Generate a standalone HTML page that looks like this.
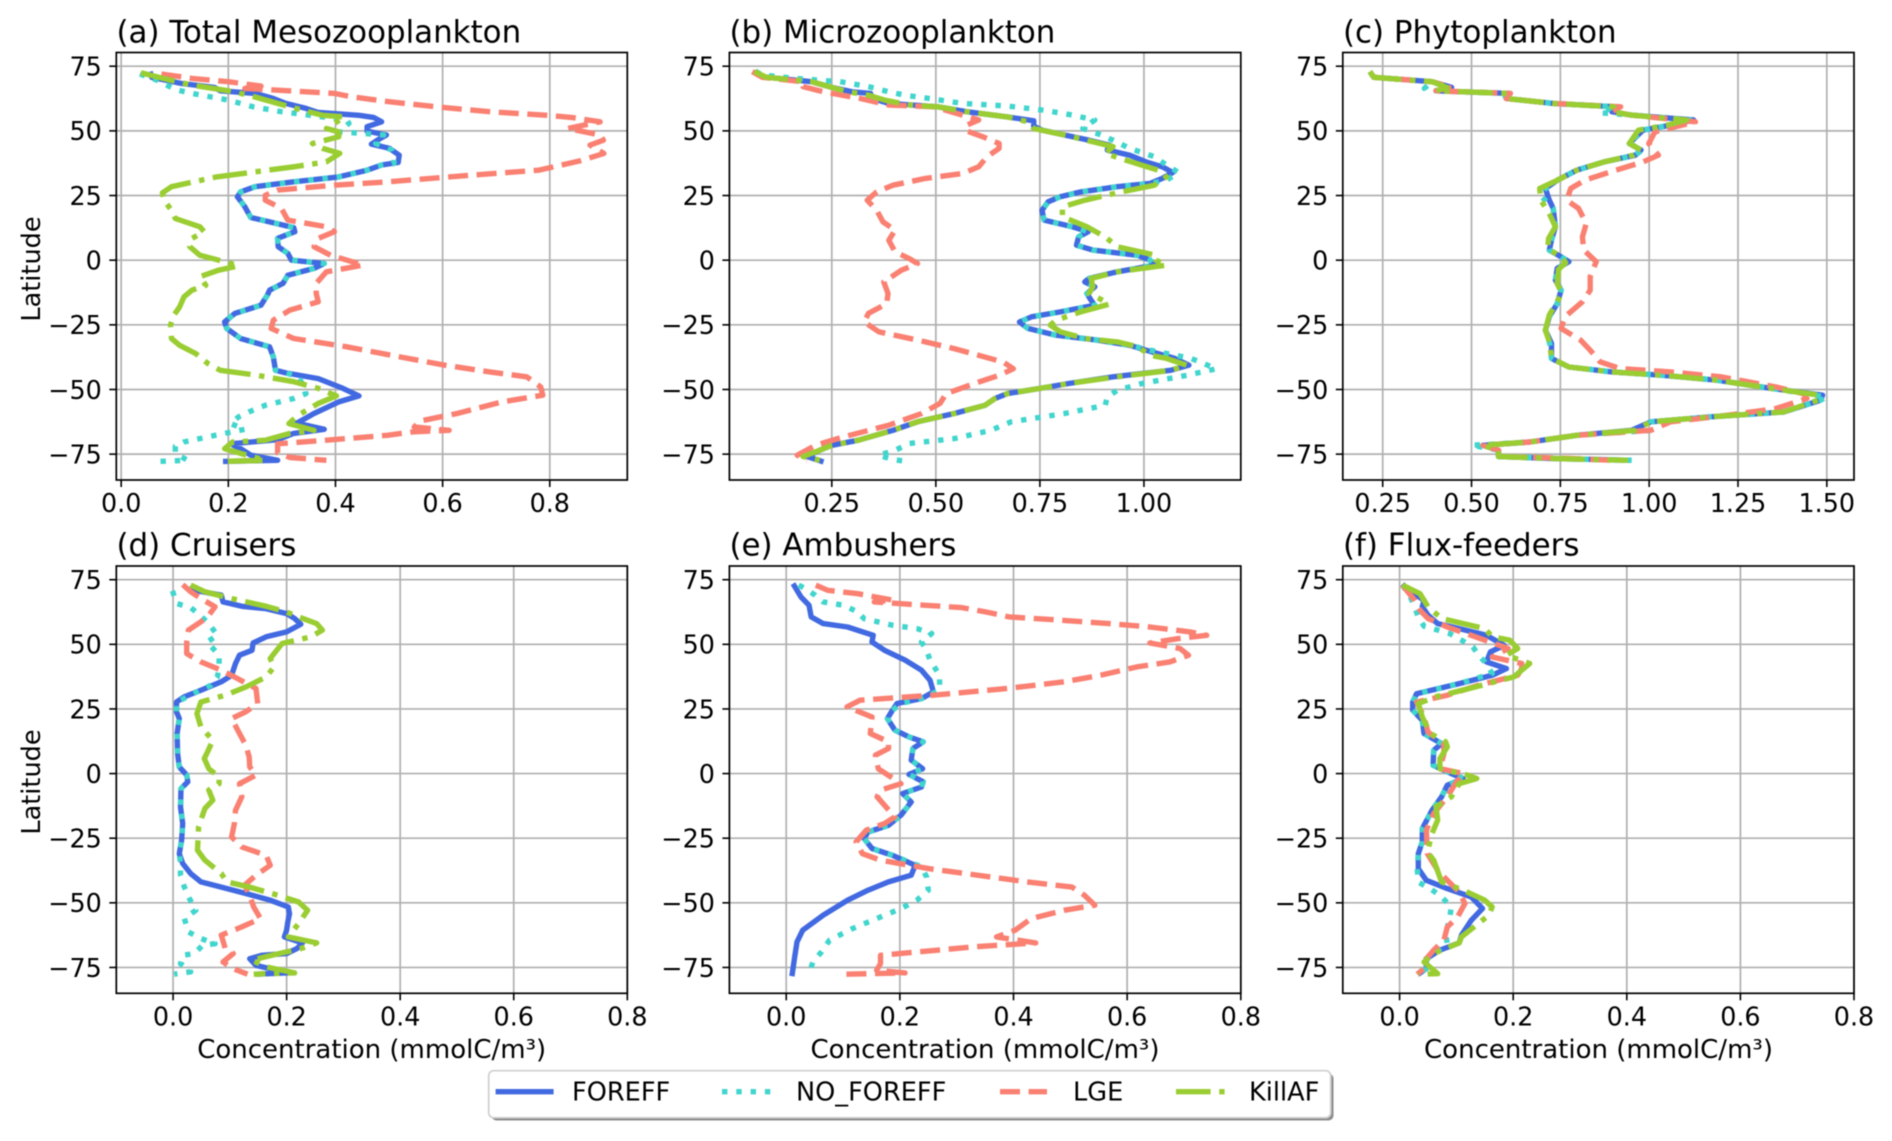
<!DOCTYPE html>
<html lang="en">
<head>
<meta charset="utf-8">
<title>Plankton concentration by latitude</title>
<style>
html,body{margin:0;padding:0;background:#fff;}
svg{display:block;font-family:"DejaVu Sans","Liberation Sans",sans-serif;fill:#000;filter:blur(0.45px);}
</style>
</head>
<body>
<svg id="fig" xmlns="http://www.w3.org/2000/svg" width="1892" height="1141" viewBox="0 0 1892 1141">
<rect width="1892" height="1141" fill="#fff"/>
<g id="panels"></g>
<g font-size="30.9">
<text x="116.5" y="42.5">(a) Total Mesozooplankton</text>
<text x="729.5" y="42.5">(b) Microzooplankton</text>
<text x="1343" y="42.5">(c) Phytoplankton</text>
<text x="116.5" y="555.5">(d) Cruisers</text>
<text x="729.5" y="555.5">(e) Ambushers</text>
<text x="1343" y="555.5">(f) Flux-feeders</text>
</g>
<g font-size="25.6" text-anchor="middle">
<text transform="translate(40,269) rotate(-90)">Latitude</text>
<text transform="translate(40,782) rotate(-90)">Latitude</text>
<text x="371.7" y="1058" font-size="26">Concentration (mmolC/m³)</text>
<text x="985" y="1058" font-size="26">Concentration (mmolC/m³)</text>
<text x="1598.5" y="1058" font-size="26">Concentration (mmolC/m³)</text>
</g>
<g>
<rect x="491.5" y="1073.5" width="842" height="47" rx="5" fill="#8c8c8c"/>
<rect x="488.7" y="1070.7" width="842" height="47" rx="5" fill="#fff" stroke="#cfcfcf" stroke-width="1.7"/>
<g>
<line x1="495.6" x2="553.6" y1="1091.7" y2="1091.7" stroke="#4169e1" stroke-width="5.4"/>
<text x="572" y="1100.5" font-size="25.6">FOREFF</text>
</g>
<g>
<line x1="722" x2="772" y1="1091.7" y2="1091.7" stroke="#40d5cd" stroke-width="5.4" stroke-dasharray="5.4 8.9"/>
<text x="796" y="1100.5" font-size="25.6">NO_FOREFF</text>
</g>
<g>
<line x1="1000" x2="1047" y1="1091.7" y2="1091.7" stroke="#fa8072" stroke-width="5.4" stroke-dasharray="20 8.6"/>
<text x="1073" y="1100.5" font-size="25.6">LGE</text>
</g>
<g>
<line x1="1176" x2="1229" y1="1091.7" y2="1091.7" stroke="#9acd32" stroke-width="5.4" stroke-dasharray="34.6 8.6 5.4 8.6"/>
<text x="1249" y="1100.5" font-size="25.6">KillAF</text>
</g>
</g>
</svg>
<script>
const aForeffLat=[72.9,70.7,68.3,66.8,65.5,64.5,62.5,60.6,58.7,57.1,56,55.2,53.5,51.6,49.9,48.4,46.4,44.9,43.2,40.6,37.8,36.8,34.8,32.2,30.3,28.4,26.4,24.5,20.6,16.5,14.8,12.6,11,8.4,5.2,2.6,0,-1.3,-3.2,-5.8,-9,-11.6,-13.5,-17.4,-20.6,-23.9,-26.4,-30.3,-33.5,-37.4,-42.6,-43.6,-45.8,-49.6,-52.5,-54.8,-59.3,-63,-65.4,-67,-69.4,-71,-72.9,-75.4,-77.4,-77.8];
const aForeff=[.054,.057,.113,.174,.185,.25,.284,.307,.345,.368,.444,.471,.486,.459,.459,.495,.478,.467,.501,.519,.517,.486,.459,.406,.322,.25,.223,.217,.231,.242,.277,.322,.324,.292,.293,.311,.318,.379,.36,.311,.302,.277,.273,.261,.212,.193,.197,.223,.277,.284,.288,.307,.368,.414,.444,.406,.36,.328,.379,.322,.292,.204,.223,.242,.292,.19];
const aNoLat=[72,69.6,66,64.5,61.9,59.3,57.4,56,54.2,52.9,49.6,49,48.4,45.1,42.6,40,37.4,36.8,34.8,32.2,30.3,28.4,26.4,24.5,20.6,16.5,14.8,12.6,11,8.4,5.2,2.6,0,-1.3,-3.2,-5.8,-9,-11.6,-13.5,-17.4,-20.6,-23.9,-26.4,-30.3,-33.5,-37.4,-42.6,-43.6,-45,-47.7,-51.6,-53.5,-56.1,-58.7,-60.6,-63.2,-65.4,-67,-68.3,-70.3,-72,-74.7,-77.4,-77.8];
const aNo=[.035,.067,.101,.132,.2,.246,.299,.353,.421,.425,.406,.452,.49,.475,.505,.509,.509,.486,.459,.406,.322,.25,.223,.217,.231,.242,.277,.322,.324,.292,.293,.311,.318,.379,.36,.311,.302,.277,.273,.261,.212,.193,.197,.223,.277,.284,.288,.307,.33,.338,.345,.322,.269,.238,.219,.204,.231,.193,.162,.117,.101,.101,.124,.071];
const aLgeLat=[72,70.3,69,67.3,66.4,66,64.5,63.2,61.3,59.1,57.4,56,55.2,53.5,50.9,48.4,46.4,44.5,41.3,38.4,34.8,32.2,30.3,29,27.1,25.1,23.2,20,15.5,12.9,11,8.4,5.2,1.9,-1.9,-4.5,-9,-12.9,-16.1,-19.3,-23.2,-26.4,-30.3,-33.5,-37.4,-40.6,-43.2,-45.1,-49,-52.2,-54.8,-59.3,-62.2,-64.5,-65.8,-66.4,-67.7,-69.6,-71,-74.5,-76.3,-77.4];
const aLge=[.075,.132,.2,.261,.231,.269,.398,.429,.498,.597,.688,.795,.84,.894,.833,.894,.9,.875,.901,.856,.779,.612,.498,.398,.292,.269,.269,.299,.311,.383,.398,.368,.36,.391,.452,.383,.364,.364,.368,.315,.284,.28,.322,.421,.52,.604,.688,.757,.783,.787,.711,.627,.558,.547,.612,.543,.497,.383,.292,.292,.315,.383];
const aKillLat=[72.5,70.3,67.7,65.5,63.8,60.6,58,56,55.4,50.9,49.6,47.7,45.1,43.2,41.3,38,36.1,32.2,28.4,26,23.2,19.3,16.1,12.9,11,8.4,5.2,1.9,-.6,-2.2,-3.9,-6.4,-9.7,-11.6,-14.2,-18.1,-21.3,-25.1,-30.3,-32.9,-36.1,-40,-42.6,-44.5,-47,-49.6,-52.5,-55.4,-60,-63.2,-65.8,-67,-69.6,-70.3,-72.9,-74.7,-77.4,-77.8];
const aKill=[.037,.078,.132,.2,.238,.292,.338,.376,.417,.383,.406,.406,.357,.376,.408,.383,.322,.178,.094,.077,.08,.094,.101,.147,.155,.132,.128,.147,.193,.219,.181,.147,.158,.132,.117,.109,.098,.092,.094,.109,.139,.162,.185,.254,.322,.368,.402,.368,.33,.313,.36,.315,.269,.208,.193,.223,.269,.189];

const bForeffLat=[73.1,70.9,69,66.8,65.1,64.5,62.5,60.6,59.3,57.4,55.4,53.9,51.8,50.3,48.4,46.4,44.5,42.6,40.6,38,36.1,33.9,31.6,29.7,28.4,26.4,24.5,22.6,19.3,15.5,12.9,11,9,5.8,3.9,1.9,0,-1.9,-4.5,-7.1,-8.4,-10.3,-12.9,-15.5,-17.4,-20,-21.9,-23.9,-26.4,-29,-30.9,-32.9,-34.8,-38,-40.6,-42.6,-45.1,-47.7,-49.6,-51.6,-53.5,-56.1,-59.3,-62.5,-65.8,-69.6,-71.6,-73.5,-75.9,-78];
const bForeff=[.067,.083,.201,.25,.299,.343,.348,.387,.505,.574,.672,.735,.735,.755,.809,.868,.917,.912,.966,1.005,1.044,1.069,1.044,1.015,.936,.848,.799,.77,.755,.76,.828,.866,.843,.838,.877,.985,1.015,1.025,.936,.868,.858,.882,.863,.873,.882,.799,.73,.701,.721,.789,.887,.966,1.005,1.074,1.108,1.064,.926,.819,.75,.672,.642,.618,.544,.456,.397,.314,.25,.221,.191,.23];
const bNoLat=[73,71.6,70.3,69,67.1,65.1,63.8,62.5,60.6,59.6,58,56.1,54.2,50.9,49,46.4,43.2,40,36.8,33.9,30.9,29.7,28.4,26.4,24.5,22.6,19.3,15.5,12.9,11,9,5.8,3.9,1.9,0,-1.9,-4.5,-7.1,-8.4,-10.3,-12.9,-15.5,-17.4,-20,-21.9,-23.9,-26.4,-29,-30.9,-32.9,-34.8,-38,-42,-44.5,-47.7,-50.3,-52.9,-56.1,-59.3,-62.5,-65.8,-69,-70.9,-73.5,-75.4,-77.1,-77.8];
const bNo=[.067,.083,.162,.27,.338,.387,.426,.485,.564,.672,.76,.828,.882,.853,.887,.926,.966,1.025,1.054,1.083,1.054,1.015,.936,.848,.799,.77,.755,.76,.828,.866,.843,.838,.877,.985,1.015,1.025,.936,.868,.858,.882,.863,.873,.882,.799,.73,.701,.721,.789,.887,.966,1.015,1.113,1.174,1.103,.995,.936,.912,.907,.809,.681,.632,.544,.436,.402,.363,.397,.431];
const bLgeLat=[72.9,70.7,69,67.1,65.1,62.5,60,59.3,56.1,54.2,52.2,50,47.7,45.1,43.2,40,36.1,33.5,31.6,29,26.4,23.2,19.3,14.8,11.6,7.7,3.2,.6,-1.3,-3.9,-8.4,-12.9,-16.8,-20.6,-23.9,-27.7,-30.9,-34.2,-36.8,-39.4,-42,-44.5,-47.7,-51.6,-55.4,-59.3,-63.8,-68.3,-71.6,-75.4,-77.4];
const bLge=[.059,.083,.181,.181,.23,.319,.387,.495,.564,.603,.574,.574,.613,.652,.652,.623,.603,.564,.475,.397,.358,.335,.358,.373,.402,.387,.402,.436,.456,.417,.375,.385,.382,.338,.328,.363,.456,.544,.603,.662,.686,.652,.593,.525,.51,.466,.387,.279,.211,.167,.191];
const bKillLat=[72.9,70.7,69,66.8,65.1,63.8,61.9,60,59.3,57.4,55.4,53.5,50.9,48.4,45.8,43.9,41.3,38.7,34.8,32.2,29,26.4,23.2,20.6,16.8,12.9,9,5.2,1.9,0,-1.9,-4.5,-7.1,-10.3,-12.9,-14.8,-17,-20,-23.2,-25.1,-27.7,-30.3,-31.6,-33.5,-36.8,-38,-40.6,-42.6,-45.1,-47.7,-49.6,-51.6,-53.5,-56.1,-59.3,-62.5,-65.8,-69.6,-71.6,-73.5,-75.9,-77.4];
const bKill=[.064,.093,.201,.25,.289,.338,.377,.436,.505,.574,.672,.721,.735,.809,.877,.926,.907,.956,1.034,1.054,1.025,.946,.858,.804,.804,.863,.907,.936,1.029,1.029,1.054,.936,.873,.877,.868,.892,.917,.848,.789,.775,.799,.858,.936,.985,1.015,1.054,1.103,1.064,.936,.819,.75,.672,.642,.618,.544,.456,.397,.314,.25,.221,.181,.221];

const cForeffLat=[72.9,70.7,69,66.8,65.5,64.5,62.5,60.6,59.3,57.4,56.1,54.2,52.2,50.3,45.1,42.6,40.6,38,34.8,30.9,27.7,23.2,20,12.9,7.7,3.9,1.3,-.6,-3.2,-7.7,-11.6,-16.8,-21.9,-27.1,-32.2,-38,-41.3,-43.2,-44.5,-46.4,-49.6,-52.2,-54.2,-58.7,-60.6,-62.5,-65.8,-67.7,-70.3,-71.6,-73.5,-75.9,-76.7,-77.4];
const cForeff=[.214,.225,.389,.444,.4,.609,.598,.73,.906,.895,.95,1.125,1.06,.983,.944,.977,.961,.873,.796,.741,.708,.719,.73,.736,.725,.719,.752,.774,.741,.736,.752,.741,.719,.708,.725,.725,.774,.895,1.038,1.191,1.345,1.488,1.482,1.378,1.169,1.005,.95,.796,.664,.532,.576,.576,.73,.95];
const cNoLat=[72.9,70.7,69,66.4,65.5,64.5,62.5,60.6,59.3,57,56.1,54.2,52.2,50.3,45.1,42.6,40.6,38,34.8,30.9,27.7,24.9,20,12.9,7.7,3.9,1.3,-.6,-3.2,-7.7,-11.6,-16.8,-21.9,-27.1,-32.2,-38,-41.3,-43.2,-44.5,-46.4,-49.6,-52.9,-54.2,-58.7,-60.6,-62.5,-65.8,-67.7,-70.3,-71.6,-73.5,-75.9,-76.7,-77.4];
const cNo=[.214,.225,.389,.367,.4,.59,.598,.73,.9,.862,.95,1.115,1.06,.98,.944,.98,.961,.873,.796,.741,.708,.695,.73,.736,.725,.719,.752,.774,.741,.736,.752,.741,.719,.708,.72,.725,.774,.895,1.038,1.191,1.345,1.499,1.482,1.378,1.169,1.005,1.01,.796,.664,.5,.58,.576,.73,.955];
const cLgeLat=[72.9,70.7,69,66.8,65.5,64.5,62.5,60.6,59.3,57.4,56.1,53.5,49.6,45.1,40.6,38,34.8,30.9,27.7,23.2,20,14.2,9,3.9,-.6,-6.4,-11.6,-16.1,-21.9,-26.4,-30.9,-34.8,-39.3,-41.9,-43.2,-45.1,-49,-51.6,-53.5,-57.4,-59.9,-62.5,-65.8,-67.7,-70.3,-71.6,-73.5,-75.9,-76.7,-77.4];
const cLge=[.214,.225,.389,.444,.4,.609,.598,.73,.92,.895,.95,1.13,1.016,.999,1.026,.983,.906,.818,.779,.768,.801,.823,.812,.816,.851,.834,.834,.812,.763,.752,.807,.834,.862,.917,1.06,1.202,1.356,1.433,1.444,1.356,1.224,1.06,1.005,.796,.664,.532,.576,.576,.78,.9];
const cKillLat=[72.9,70.7,69,66.8,65.5,64.5,62.5,60.6,59.3,57.4,56.1,54.2,52.2,50.3,45.1,42.6,40.6,38,34.8,30.9,27.7,23.2,18,12.9,8.4,4.5,1.3,-1,-3.5,-9,-12.9,-21.2,-27,-32,-38,-41.3,-43.2,-44.5,-46.4,-49.6,-52.2,-54.2,-58.7,-60.6,-62.5,-65.8,-67.7,-70.3,-71.6,-73.5,-75.9,-76.7,-77.4];
const cKill=[.214,.225,.389,.43,.4,.6,.598,.73,.9,.895,.95,1.105,1.05,.97,.944,.977,.955,.873,.796,.741,.692,.695,.719,.736,.717,.714,.752,.765,.745,.741,.754,.719,.708,.72,.725,.774,.895,1.038,1.191,1.345,1.48,1.475,1.378,1.169,1.005,.96,.796,.664,.532,.576,.576,.73,.94];

const dForeffLat=[72.9,70.9,69,66.4,64.7,63.8,61.9,60,57.8,54.8,52.9,50.5,47.7,45.8,42.6,38,35.5,32.2,29.7,27.7,23.9,21.3,15.5,7.7,2.6,-.6,-3.2,-5.8,-12.9,-19.3,-25.8,-31,-34.8,-38.7,-41.9,-43.9,-46.4,-49,-51.6,-54.2,-57.4,-60.6,-63.2,-65.5,-67.7,-69.6,-70.3,-71.6,-74.2,-75.5,-77.1,-77.6];
const dForeff=[.033,.038,.085,.088,.121,.164,.2,.214,.225,.2,.164,.141,.139,.117,.11,.103,.085,.049,.02,.006,.006,.011,.007,.008,.011,.024,.026,.014,.013,.017,.015,.011,.017,.031,.049,.085,.128,.171,.203,.205,.202,.2,.196,.228,.218,.2,.156,.135,.146,.171,.2,.146];
const dNoLat=[70.7,65.8,64.2,61.3,58,53.5,50.9,45.8,41.3,37.4,34.2,31.6,28.4,27.7,23.9,21.3,15.5,7.7,2.6,-.6,-3.2,-5.8,-12.9,-19.3,-25.8,-31,-34.8,-39.3,-43.9,-48.4,-52.9,-56.1,-61.3,-63.8,-65.8,-66.4,-69.6,-70.3,-73.5,-76.7,-77.6];
const dNo=[-.001,.006,.031,.047,.063,.078,.06,.081,.081,.078,.067,.042,.013,.006,.006,.011,.007,.008,.011,.024,.026,.014,.013,.017,.015,.011,.013,.013,.02,.029,.04,.02,.027,.049,.074,.052,.038,.017,.013,.031,.002];
const dLgeLat=[73.1,70.3,67.7,64.5,61.3,58.7,55.5,50.9,46.4,43.2,40,36.8,32.9,27.1,23.9,21.3,15.5,11,6.4,2.6,-.6,-3.9,-9,-14.2,-19.3,-24.5,-28.4,-31.6,-35.5,-39.3,-43.2,-47.1,-51.6,-56.1,-59.3,-62.5,-67.7,-69.6,-72.9,-75.5,-77.6];
const dLge=[.017,.031,.049,.074,.063,.049,.027,.024,.024,.049,.085,.113,.146,.149,.128,.103,.117,.128,.134,.135,.146,.117,.121,.11,.108,.103,.121,.164,.171,.146,.126,.135,.142,.154,.121,.085,.092,.106,.088,.106,.131];
const dKillLat=[72.9,70.3,67.7,64.7,62.5,60.6,58,55.5,52.9,50.3,46.4,44.5,41.3,37.4,33.5,30.3,27.7,23.2,18,12.9,9,5.8,1.9,-1.3,-3.9,-6.4,-10.3,-13.5,-20.6,-29.7,-33.5,-38.7,-41.9,-43.9,-47.1,-49.7,-52.9,-58,-63.2,-65.5,-67.7,-70.3,-72.2,-74.8,-77.1,-77.6];
const dKill=[.031,.056,.103,.164,.2,.221,.253,.263,.243,.192,.178,.171,.178,.164,.128,.092,.049,.042,.049,.07,.062,.055,.063,.081,.081,.063,.07,.056,.045,.043,.056,.085,.095,.135,.185,.221,.237,.221,.203,.253,.225,.174,.139,.164,.214,.142];

const eForeffLat=[73.5,68.3,65.1,60.6,58,56.7,53.5,50.9,47.7,43.9,40,36.1,31.6,29,27.1,24.5,21.3,16.8,14.2,12.3,9.7,5.2,1.9,-.3,-3.2,-5.2,-7.7,-11,-16.1,-20,-22.6,-25.1,-29,-31.6,-35.5,-39.3,-41.9,-45.1,-49,-54.8,-60.6,-65.1,-70.9,-78.4];
const eForeff=[.012,.026,.04,.044,.065,.108,.153,.151,.173,.209,.238,.253,.259,.238,.195,.187,.178,.191,.216,.241,.223,.22,.24,.216,.241,.238,.205,.22,.202,.18,.144,.137,.151,.187,.227,.22,.18,.144,.108,.065,.029,.019,.015,.01];
const eNoLat=[72.9,71.6,69,66.4,65.1,62.5,59.9,57.4,56.1,54.2,50.9,47.7,43.9,38,32.2,29,27.1,24.5,21.3,16.8,14.2,12.3,9.7,5.2,1.9,-.3,-3.2,-5.2,-7.7,-11,-16.1,-20,-22.6,-25.1,-29,-31.6,-36.1,-40,-45.1,-49,-52.2,-56.1,-60,-64.5,-69,-72.9,-78];
const eNo=[.022,.033,.051,.065,.101,.126,.137,.187,.23,.256,.238,.247,.253,.27,.27,.238,.202,.187,.178,.191,.216,.241,.223,.22,.24,.216,.241,.238,.205,.22,.202,.18,.144,.137,.151,.187,.238,.247,.25,.23,.202,.159,.116,.076,.062,.047,.039];
const eLgeLat=[72.9,70.9,69.6,67.1,66.4,65.1,64.2,62.5,60.6,59.7,58,56.7,54.8,53.5,52.2,50.5,48.4,45.8,43.2,41.3,38,35.5,32.9,30.3,28.4,25.8,21.9,15.5,12.3,9.7,7.1,1.9,-3.9,-6.4,-9,-16.8,-19.3,-21.9,-26.4,-31,-33.5,-36.8,-40,-41.9,-43.9,-47.1,-50.9,-52.9,-56.1,-60.6,-63.2,-65.5,-67,-70.3,-73.5,-76.1,-77.1,-77.6];
const eLge=[.052,.073,.126,.187,.155,.245,.309,.352,.392,.46,.568,.64,.711,.74,.69,.64,.693,.708,.675,.618,.553,.489,.388,.259,.13,.107,.151,.148,.18,.18,.157,.162,.202,.166,.16,.191,.173,.141,.123,.134,.166,.252,.36,.424,.503,.525,.543,.489,.431,.403,.37,.439,.331,.166,.166,.159,.209,.105];

const fForeffLat=[73.3,70.3,67.1,64.5,61.3,58,56.1,53.5,49.6,47.1,43.2,40.6,38,34.8,30.9,27.7,24.5,20.6,15.5,11.6,9,3.2,0,-1.9,-4.5,-9,-14.2,-21.3,-26.4,-31,-36.8,-41.3,-44.5,-47.7,-52.2,-56.8,-62.5,-65.5,-68.3,-71.6,-75.5,-77.6];
const fForeff=[.005,.019,.043,.04,.05,.067,.105,.153,.184,.16,.153,.188,.163,.105,.03,.023,.023,.04,.043,.074,.06,.059,.091,.112,.084,.074,.057,.04,.04,.033,.033,.047,.084,.126,.146,.126,.109,.105,.071,.047,.047,.033];
const fNoLat=[72.9,68.3,64.5,60.6,57,54.2,51.6,49,45.8,43.2,38.7,34.8,30.9,27.7,24.5,20.6,15.5,11.6,9,3.2,0,-1.9,-4.5,-9,-14.2,-21.3,-26.4,-31,-36.8,-42,-44.5,-47.7,-51.6,-56.1,-61.9,-65.8,-69.6,-72.2,-75.5,-77.6];
const fNo=[.005,.019,.026,.033,.043,.088,.109,.129,.139,.15,.163,.105,.03,.023,.023,.04,.043,.074,.06,.059,.091,.112,.084,.074,.057,.04,.04,.033,.031,.033,.054,.074,.091,.088,.081,.084,.06,.043,.047,.033];
const fLgeLat=[72.9,67.1,63.2,60,56.7,53.5,48.4,45.1,42.6,40.6,38,34.2,30.3,27.7,21.9,16.1,11.6,7.7,1.9,0,-3.9,-9,-15.5,-21.9,-31,-37.4,-41.3,-45.8,-50.3,-55.5,-59.3,-64.5,-68.3,-71.6,-75.5,-77.6];
const fLge=[.005,.026,.036,.05,.084,.126,.191,.163,.215,.215,.208,.139,.084,.03,.043,.05,.078,.078,.071,.112,.098,.084,.06,.047,.049,.067,.084,.105,.115,.102,.084,.078,.06,.047,.043,.031];
const fKillLat=[72.9,69.6,64.5,60,56.1,52.9,51.6,48.4,45.8,42.6,40,37.4,33.5,29.7,27.1,21.9,15.5,12.3,10.3,5.8,1.9,-.6,-1.9,-3.9,-9,-12.9,-18,-23.2,-30.3,-33.5,-41.9,-45.1,-49,-51.6,-54.8,-63.2,-65.5,-69.6,-72.9,-77.4,-77.6];
const fKill=[.005,.036,.05,.074,.15,.163,.194,.208,.188,.229,.215,.201,.133,.064,.033,.04,.054,.081,.084,.071,.071,.119,.136,.105,.091,.064,.067,.057,.049,.06,.074,.112,.15,.163,.157,.109,.105,.06,.043,.067,.033];

const yTickValues=[75,50,25,0,-25,-50,-75];
const xTicksTop=[[0,.2,.4,.6,.8],[.25,.5,.75,1],[.25,.5,.75,1,1.25,1.5]];
const xTicksBottom=[0,.2,.4,.6,.8];

const LINE_STYLES={
  foreff:{color:'#4169e1',dash:null},
  no:{color:'#40d5cd',dash:'5.4 8.9'},
  lge:{color:'#fa8072',dash:'20 8.6'},
  kill:{color:'#9acd32',dash:'34.6 8.6 5.4 8.6'}
};

const NS='http://www.w3.org/2000/svg';
const root=document.getElementById('panels');

function make(tag,attrs,parent){
  const el=document.createElementNS(NS,tag);
  for(const k in attrs){el.setAttribute(k,attrs[k]);}
  parent.appendChild(el);
  return el;
}

function fmtX(v,dec){return v.toFixed(dec);}
function fmtY(v){return v<0?'\u2212'+Math.abs(v):String(v);}

function drawPanel(p){
  const g=make('g',{},root);
  
  
  const xs=v=>p.left+(v-p.xlim[0])/(p.xlim[1]-p.xlim[0])*(p.right-p.left);
  const ys=v=>p.top+(p.ylim[1]-v)/(p.ylim[1]-p.ylim[0])*(p.bottom-p.top);
  const clipId='clip-'+p.id;
  const defs=make('defs',{},g);
  const clip=make('clipPath',{id:clipId},defs);
  make('rect',{x:p.left,y:p.top,width:p.right-p.left,height:p.bottom-p.top},clip);

  p.xticks.forEach(v=>{
    const x=xs(v);
    const gl=make('line',{x1:x,x2:x,y1:p.top,y2:p.bottom,stroke:'#b0b0b0','stroke-width':1.7},g);
    
    
    const tk=make('line',{x1:x,x2:x,y1:p.bottom,y2:p.bottom+7,stroke:'#000','stroke-width':1.6},g);
    
    
    const t=make('text',{x:x,y:p.bottom+32,'text-anchor':'middle','font-size':25.4},g);
    t.textContent=fmtX(v,p.dec);
    
    
  });
  yTickValues.forEach(v=>{
    const y=ys(v);
    const gl=make('line',{x1:p.left,x2:p.right,y1:y,y2:y,stroke:'#b0b0b0','stroke-width':1.7},g);
    
    
    const tk=make('line',{x1:p.left-7,x2:p.left,y1:y,y2:y,stroke:'#000','stroke-width':1.6},g);
    
    
    const t=make('text',{x:p.left-14.5,y:y+9.3,'text-anchor':'end','font-size':25.4},g);
    t.textContent=fmtY(v);
    
    
  });

  const lines=make('g',{'clip-path':'url(#'+clipId+')'},g);
  
  
  p.series.forEach(s=>{
    const st=LINE_STYLES[s.key];
    const pts=s.vals.map((v,i)=>xs(v).toFixed(1)+','+ys(s.lats[i]).toFixed(1)).join(' ');
    const attrs={points:pts,fill:'none',stroke:st.color,'stroke-width':5.4,'stroke-linejoin':'round','stroke-linecap':'butt'};
    if(st.dash){attrs['stroke-dasharray']=st.dash;}
    const pl=make('polyline',attrs,lines);
    
    
  });

  const frame=make('rect',{x:p.left,y:p.top,width:p.right-p.left,height:p.bottom-p.top,fill:'none',stroke:'#000','stroke-width':1.7},g);
  
  
}

const rowTop={top:52.5,bottom:480};
const rowBottom={top:566,bottom:993.3};
const yl=[-85,80.3];
const colA={left:116.3,right:627.3};
const colB={left:729.4,right:1240.8};
const colC={left:1342.8,right:1854};

drawPanel({id:'a',...colA,...rowTop,xlim:[-.0091,.9447],ylim:yl,xticks:xTicksTop[0],dec:1,series:[
  {key:'foreff',lats:aForeffLat,vals:aForeff},{key:'no',lats:aNoLat,vals:aNo},{key:'lge',lats:aLgeLat,vals:aLge},{key:'kill',lats:aKillLat,vals:aKill}]});
drawPanel({id:'b',...colB,...rowTop,xlim:[.004,1.2327],ylim:yl,xticks:xTicksTop[1],dec:2,series:[
  {key:'foreff',lats:bForeffLat,vals:bForeff},{key:'no',lats:bNoLat,vals:bNo},{key:'lge',lats:bLgeLat,vals:bLge},{key:'kill',lats:bKillLat,vals:bKill}]});
drawPanel({id:'c',...colC,...rowTop,xlim:[.1377,1.5765],ylim:yl,xticks:xTicksTop[2],dec:2,series:[
  {key:'foreff',lats:cForeffLat,vals:cForeff},{key:'no',lats:cNoLat,vals:cNo},{key:'lge',lats:cLgeLat,vals:cLge},{key:'kill',lats:cKillLat,vals:cKill}]});
drawPanel({id:'d',...colA,...rowBottom,xlim:[-.1,.8],ylim:yl,xticks:xTicksBottom,dec:1,series:[
  {key:'foreff',lats:dForeffLat,vals:dForeff},{key:'no',lats:dNoLat,vals:dNo},{key:'lge',lats:dLgeLat,vals:dLge},{key:'kill',lats:dKillLat,vals:dKill}]});
drawPanel({id:'e',...colB,...rowBottom,xlim:[-.1,.8],ylim:yl,xticks:xTicksBottom,dec:1,series:[
  {key:'foreff',lats:eForeffLat,vals:eForeff},{key:'no',lats:eNoLat,vals:eNo},{key:'lge',lats:eLgeLat,vals:eLge}]});
drawPanel({id:'f',...colC,...rowBottom,xlim:[-.1,.8],ylim:yl,xticks:xTicksBottom,dec:1,series:[
  {key:'foreff',lats:fForeffLat,vals:fForeff},{key:'no',lats:fNoLat,vals:fNo},{key:'lge',lats:fLgeLat,vals:fLge},{key:'kill',lats:fKillLat,vals:fKill}]});
</script>
</body>
</html>
